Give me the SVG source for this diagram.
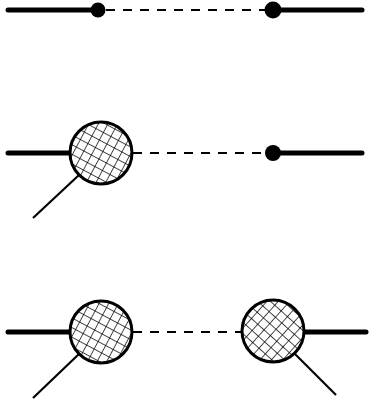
<svg xmlns="http://www.w3.org/2000/svg" width="371" height="404" viewBox="0 0 371 404">
<style>
.thick{stroke:#000;stroke-width:5;stroke-linecap:round;fill:none}
.thin{stroke:#000;stroke-width:2.2;fill:none}
.dash{stroke:#000;stroke-width:2.2;stroke-dasharray:9 8;fill:none}
.dot{fill:#000}
.blob{stroke:#000;stroke-width:3}
</style>
<defs>
<pattern id="hatchL" width="8.5" height="8.5" patternUnits="userSpaceOnUse" patternTransform="rotate(28)">
<rect width="8.5" height="8.5" fill="#fff"/>
<path d="M0 0H8.5M0 0V8.5" stroke="#000" stroke-width="1.4"/>
</pattern>
<pattern id="hatchR" width="8.5" height="8.5" patternUnits="userSpaceOnUse" patternTransform="rotate(42)">
<rect width="8.5" height="8.5" fill="#fff"/>
<path d="M0 0H8.5M0 0V8.5" stroke="#000" stroke-width="1.4"/>
</pattern>
</defs>
<rect width="371" height="404" fill="#fff"/>
<g id="connectors">
<line class="thick" x1="8" y1="10" x2="97" y2="10"/>
<line class="dash" x1="106" y1="10" x2="265" y2="10"/>
<line class="thick" x1="274" y1="10" x2="362" y2="10"/>
<line class="thick" x1="8" y1="153" x2="70" y2="153"/>
<line class="thin" x1="79" y1="175" x2="33" y2="218"/>
<line class="dash" x1="133" y1="153" x2="265" y2="153"/>
<line class="thick" x1="274" y1="153" x2="362" y2="153"/>
<line class="thick" x1="8" y1="332" x2="70" y2="332"/>
<line class="thin" x1="79" y1="354" x2="33" y2="398"/>
<line class="dash" x1="133" y1="332" x2="242" y2="332"/>
<line class="thick" x1="304" y1="332" x2="366" y2="332"/>
<line class="thin" x1="295" y1="354" x2="336" y2="395"/>
</g>
<g id="n1"><circle class="dot" cx="98" cy="10" r="7.5"/></g>
<g id="n2"><circle class="dot" cx="273" cy="10" r="8.5"/></g>
<g id="n3"><circle class="blob" cx="101" cy="153" r="31" fill="url(#hatchL)"/></g>
<g id="n4"><circle class="dot" cx="273" cy="153" r="8"/></g>
<g id="n5"><circle class="blob" cx="101" cy="332" r="31" fill="url(#hatchL)"/></g>
<g id="n6"><circle class="blob" cx="273" cy="331" r="31" fill="url(#hatchR)"/></g>
</svg>
